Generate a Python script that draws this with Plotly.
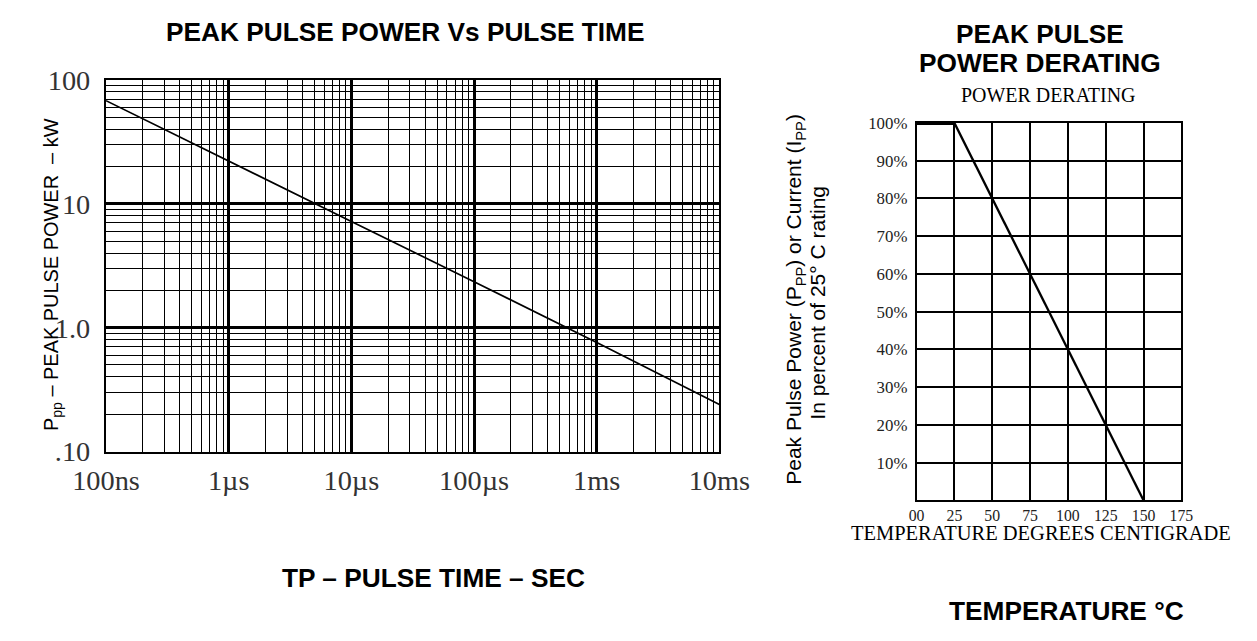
import plotly.graph_objects as go

# ---------------- data ----------------
# Left chart: peak pulse power vs pulse time (log-log)
pulse_time_s = [1e-7, 1e-6, 1e-5, 1e-4, 1e-3, 1e-2]
peak_power_kw = [68, 22, 7.2, 2.35, 0.76, 0.24]
time_tick_vals = [1e-7, 1e-6, 1e-5, 1e-4, 1e-3, 1e-2]
time_tick_text = ["100ns", "1\u00b5s", "10\u00b5s", "100\u00b5s", "1ms", "10ms"]
power_tick_vals = [0.1, 1, 10, 100]
power_tick_text = [".10", "1.0", "10", "100"]

# Right chart: power derating
flat_temp = [0, 25]
flat_pct = [100, 100]
derate_temp = [25, 150]
derate_pct = [100, 0]
temp_tick_vals = [0, 25, 50, 75, 100, 125, 150, 175]
temp_tick_text = ["00", "25", "50", "75", "100", "125", "150", "175"]
pct_tick_vals = [10, 20, 30, 40, 50, 60, 70, 80, 90, 100]
pct_tick_text = ["10%", "20%", "30%", "40%", "50%", "60%", "70%", "80%", "90%", "100%"]

# ---------------- layout geometry ----------------
# The page body has an 8px margin and the photographed page comes out
# scaled by ~0.952 about the window centre, so positions given below in
# target-picture pixels are mapped back to figure coordinates.
MARGIN = 8
S = 0.952
OX, OY = 31.1, 15.4
W, H = 1257 - MARGIN, 641 - MARGIN


def fx(R):
    return ((R - OX) / S - MARGIN) / W


def fy(R):
    return 1 - ((R - OY) / S - MARGIN) / H


def sz(v):
    return v / S


time_minor = [m * 10.0 ** e for e in range(-7, -2) for m in range(2, 10)]
power_minor = [m * 10.0 ** e for e in range(-1, 2) for m in range(2, 10)]

fig = go.Figure()

fig.add_trace(go.Scatter(
    x=pulse_time_s, y=peak_power_kw, mode="lines",
    line=dict(color="black", width=sz(1.6)),
    xaxis="x", yaxis="y", showlegend=False, hoverinfo="skip"))
fig.add_trace(go.Scatter(
    x=flat_temp, y=flat_pct, mode="lines",
    line=dict(color="black", width=sz(4)),
    xaxis="x2", yaxis="y2", showlegend=False, hoverinfo="skip"))
fig.add_trace(go.Scatter(
    x=derate_temp, y=derate_pct, mode="lines",
    line=dict(color="black", width=sz(2.2)),
    xaxis="x2", yaxis="y2", showlegend=False, hoverinfo="skip"))

serif = "Liberation Serif, Times New Roman, serif"
sans = "Liberation Sans, Arial, sans-serif"

fig.update_layout(
    width=W, height=H, autosize=False,
    margin=dict(l=0, r=0, t=0, b=0),
    paper_bgcolor="white", plot_bgcolor="white",
    showlegend=False,
    xaxis=dict(
        type="log", domain=[fx(103), fx(719)], range=[-7, -2],
        tickmode="array", tickvals=time_tick_vals, ticktext=time_tick_text,
        tickfont=dict(family=serif, size=sz(27), color="#333333"),
        ticks="outside", ticklen=2, tickcolor="rgba(0,0,0,0)",
        showgrid=True, gridcolor="black", gridwidth=sz(3),
        minor=dict(tickmode="array", tickvals=time_minor, showgrid=True,
                   gridcolor="black", gridwidth=sz(1.3), ticks=""),
        showline=True, linecolor="black", linewidth=sz(2), mirror=True,
        zeroline=False, anchor="y",
    ),
    yaxis=dict(
        type="log", domain=[fy(452), fy(80)], range=[-1, 2],
        tickmode="array", tickvals=power_tick_vals, ticktext=power_tick_text,
        tickfont=dict(family=serif, size=sz(27), color="#333333"),
        ticks="outside", ticklen=8, tickcolor="rgba(0,0,0,0)",
        showgrid=True, gridcolor="black", gridwidth=sz(3),
        minor=dict(tickmode="array", tickvals=power_minor, showgrid=True,
                   gridcolor="black", gridwidth=sz(1.3), ticks=""),
        showline=True, linecolor="black", linewidth=sz(2), mirror=True,
        zeroline=False, anchor="x",
    ),
    xaxis2=dict(
        domain=[fx(917), fx(1183)], range=[0, 175],
        tickmode="array", tickvals=temp_tick_vals, ticktext=temp_tick_text,
        tickfont=dict(family=serif, size=sz(15), color="#222222"),
        ticks="outside", ticklen=0, tickcolor="rgba(0,0,0,0)",
        showgrid=True, gridcolor="black", gridwidth=sz(1.5),
        showline=True, linecolor="black", linewidth=sz(1.5), mirror=True,
        zeroline=False, anchor="y2",
    ),
    yaxis2=dict(
        domain=[fy(501), fy(123)], range=[0, 100],
        tickmode="array", tickvals=pct_tick_vals, ticktext=pct_tick_text,
        tickfont=dict(family=serif, size=sz(16), color="#222222"),
        ticks="outside", ticklen=4, tickcolor="rgba(0,0,0,0)",
        showgrid=True, gridcolor="black", gridwidth=sz(1.5),
        showline=True, linecolor="black", linewidth=sz(1.5), mirror=True,
        zeroline=False, anchor="x2",
    ),
)

annotations = [
    dict(text="<b>PEAK PULSE POWER Vs PULSE TIME</b>", x=fx(403), y=fy(32),
         font=dict(family=sans, size=sz(25), color="black")),
    dict(text="<b>TP \u2013 PULSE TIME \u2013 SEC</b>", x=fx(432), y=fy(579),
         font=dict(family=sans, size=sz(25), color="black")),
    dict(text="P<sub>pp</sub> \u2013 PEAK PULSE POWER  \u2013 kW", x=fx(49), y=fy(275),
         textangle=-90, font=dict(family=sans, size=sz(19), color="black")),
    dict(text="<b>PEAK PULSE</b>", x=fx(1041), y=fy(34),
         font=dict(family=sans, size=sz(25), color="black")),
    dict(text="<b>POWER DERATING</b>", x=fx(1041), y=fy(63),
         font=dict(family=sans, size=sz(25), color="black")),
    dict(text="POWER DERATING", x=fx(1049), y=fy(95),
         font=dict(family=serif, size=sz(19), color="black")),
    dict(text="TEMPERATURE DEGREES CENTIGRADE", x=fx(1042), y=fy(534),
         font=dict(family=serif, size=sz(19.5), color="black")),
    dict(text="<b>TEMPERATURE \u00b0C</b>", x=fx(1068), y=fy(612),
         font=dict(family=sans, size=sz(25), color="black")),
    dict(text="Peak Pulse Power (P<sub>PP</sub>) or Current (I<sub>PP</sub>)",
         x=fx(795), y=fy(300), textangle=-90,
         font=dict(family=sans, size=sz(20), color="black")),
    dict(text="In percent of 25\u00b0 C rating",
         x=fx(818), y=fy(303), textangle=-90,
         font=dict(family=sans, size=sz(20), color="black")),
]
for a in annotations:
    a.update(xref="paper", yref="paper", showarrow=False,
             xanchor="center", yanchor="middle")
fig.update_layout(annotations=annotations)

fig.write_html("out.html")
